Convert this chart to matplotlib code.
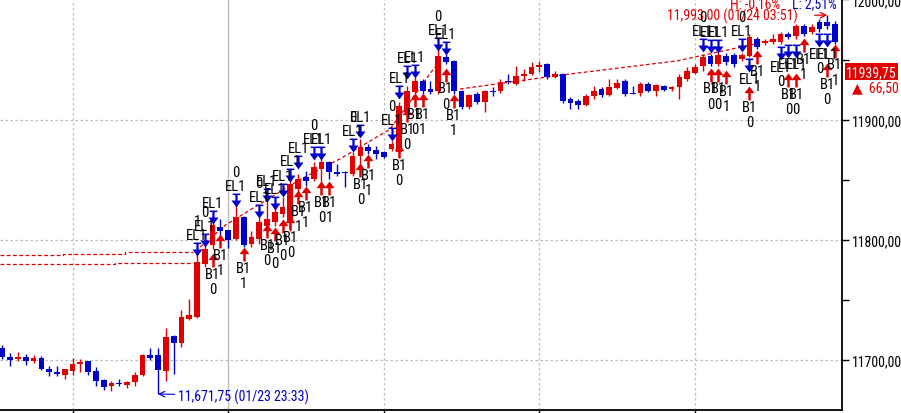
import matplotlib

matplotlib.use('Agg')
import matplotlib.pyplot as plt
from matplotlib.path import Path
from matplotlib.ticker import FixedLocator, FuncFormatter, NullFormatter

RED = '#E10000'
BLUE = '#0000CC'
GRID = '#BDBDBD'

# candles (one per bar, oldest first)
opens = [11710, 11702.5, 11701, 11702.5, 11699, 11701.5, 11692.5, 11690, 11687.5, 11691,
         11696.5, 11699, 11691, 11683.5, 11678.5, 11681, 11679, 11681.5, 11687.5, 11704,
         11704, 11691, 11720, 11714, 11734, 11736, 11780, 11795.5, 11810.5, 11808,
         11800.5, 11819, 11796.5, 11800.5, 11811.5, 11815, 11821.5, 11815, 11842.5, 11852.5,
         11850.5, 11859, 11865, 11856.5, 11856.5, 11855, 11870, 11877.5, 11875, 11873,
         11875.5, 11873, 11906.5, 11923, 11932, 11925.5, 11924, 11952, 11949, 11924,
         11910.5, 11921.5, 11914.5, 11924, 11924, 11932, 11929.5, 11936.5, 11938, 11944,
         11946.5, 11935.5, 11938, 11917, 11915.5, 11912, 11919.5, 11925.5, 11920.5, 11926.5,
         11932, 11922, 11922, 11929.5, 11924, 11928, 11925.5, 11927, 11934, 11939,
         11944.5, 11953, 11946.5, 11953, 11954, 11950.5, 11953, 11967, 11964, 11964.5,
         11964.5, 11971.5, 11969.5, 11978, 11973, 11981.5, 11981.5, 11979.5]
highs = [11712.5, 11706, 11706.5, 11705, 11704, 11703, 11695, 11695, 11692.5, 11701.5,
         11701, 11699.5, 11694, 11684.5, 11682.5, 11684.5, 11682.5, 11690, 11705, 11710,
         11710, 11726.5, 11720.5, 11741.5, 11751, 11790, 11796.5, 11817.5, 11817.5, 11808.5,
         11830, 11819.5, 11807.5, 11825.5, 11834, 11831.5, 11835.5, 11857.5, 11855, 11857.5,
         11865, 11871.5, 11865.5, 11863, 11857, 11873, 11884, 11880, 11878, 11874,
         11882.5, 11914.5, 11928, 11935.5, 11934, 11932, 11959, 11954.5, 11949.5, 11924.5,
         11921.5, 11923, 11924.5, 11927, 11934, 11938, 11944.5, 11942, 11948, 11949,
         11947, 11940.5, 11939, 11919, 11917, 11921.5, 11928, 11927, 11934, 11934,
         11934, 11928, 11931.5, 11931.5, 11929.5, 11929, 11928, 11938, 11944, 11946.5,
         11954.5, 11954.5, 11956.5, 11955.5, 11955.5, 11955.5, 11971.5, 11969, 11967, 11971.5,
         11973, 11973, 11979.5, 11979.5, 11979.5, 11984, 11987, 11982]
lows = [11701, 11695, 11699, 11696, 11697.5, 11692, 11687, 11687, 11684.5, 11687.5,
        11690, 11687.5, 11678.5, 11675, 11674.5, 11678.5, 11677, 11678.5, 11687, 11700,
        11671.75, 11682.5, 11688.5, 11711, 11733.5, 11735, 11777.5, 11792.5, 11798, 11793,
        11800, 11794, 11794, 11796.5, 11810, 11811.5, 11819, 11807.5, 11838, 11845,
        11849, 11845, 11850.5, 11853, 11844, 11853, 11860.5, 11871.5, 11867.5, 11868,
        11874, 11871.5, 11903, 11921.5, 11921.5, 11921.5, 11921.5, 11946.5, 11921.5, 11909,
        11909, 11913, 11906.5, 11919.5, 11922, 11929.5, 11929, 11932, 11937.5, 11939.5,
        11934, 11935, 11914, 11909, 11909, 11911.5, 11917, 11919, 11919.5, 11925.5,
        11919.5, 11921, 11919.5, 11923, 11919.5, 11924, 11924, 11917, 11932, 11938,
        11940.5, 11944.5, 11944.5, 11945.5, 11944, 11949, 11952, 11959, 11962, 11963,
        11963, 11967, 11967, 11969.5, 11971.5, 11973, 11975.5, 11963]
closes = [11702.5, 11700, 11702.5, 11699, 11701.5, 11692.5, 11690, 11688.5, 11692.5, 11696.5,
          11698.5, 11690, 11682.5, 11677.5, 11681, 11680, 11681.5, 11687.5, 11704, 11701.5,
          11691.5, 11719, 11714, 11736, 11737.5, 11781.5, 11792.5, 11812.5, 11807.5, 11800,
          11819, 11795.5, 11802.5, 11815, 11817.5, 11823, 11827.5, 11846.5, 11850.5, 11849,
          11860.5, 11865, 11856.5, 11855, 11855.5, 11870, 11877.5, 11874, 11871.5, 11869,
          11880, 11911.5, 11924, 11932, 11924, 11923, 11953, 11948, 11924, 11910.5,
          11920.5, 11914.5, 11924, 11923, 11931.5, 11931, 11936.5, 11938, 11944, 11945.5,
          11935.5, 11938, 11915.5, 11914, 11912, 11919.5, 11924, 11920.5, 11927, 11930.5,
          11921.5, 11921.5, 11929.5, 11924, 11929, 11924.5, 11927, 11935.5, 11940.5, 11944,
          11952, 11946.5, 11954, 11948, 11946.5, 11954, 11969, 11960.5, 11965.5, 11967,
          11971.5, 11969, 11978, 11971.5, 11977, 11975.5, 11978, 11964.5]

# exit signals (blue, EL1)
el_idx = [25, 26, 27, 30, 33, 34, 35, 36, 37, 38, 40, 41, 45, 46, 50, 51, 52, 53, 56, 57,
          90, 91, 92, 95, 96, 100, 101, 102, 105, 106]
el_price = [11792.5, 11800, 11819, 11833, 11824, 11837.5, 11830.5, 11841.5, 11854, 11865,
            11872.5, 11872.5, 11879, 11890.5, 11888, 11923, 11939.5, 11940.5, 11963, 11959.5,
            11962, 11961.5, 11961.5, 11962, 11945.5, 11955.5, 11957.5, 11957.5, 11966, 11966]
el_num = ['1', '0', '', '0', '0', '', '', '', '', '', '0', '', '0', '', '0', '', '', '', '0', '',
          '0', '', '', '0', '', '0', '', '', '0', '']
el_below = [96, 100, 101, 102, 105, 106]

# entry signals (red, B1)
b_idx = [27, 28, 31, 34, 35, 36, 37, 38, 39, 41, 42, 46, 47, 51, 52, 53, 54, 57, 58,
         91, 92, 93, 96, 97, 101, 102, 103, 106, 107]
b_price = [11783.5, 11799, 11788, 11807.5, 11805, 11811.5, 11814, 11835.5, 11839, 11843,
           11843, 11858, 11865.5, 11874, 11904, 11916.5, 11916.5, 11937.5, 11915.5,
           11937.5, 11937.5, 11935.5, 11922, 11952, 11933, 11933, 11962, 11941.5, 11957.5]
b_num = ['0', '1', '1', '0', '0', '0', '0', '1', '1', '0', '1', '0', '1', '0', '0', '0', '1', '0', '1',
         '0', '0', '1', '0', '1', '0', '0', '1', '0', '1']

# red dashed guide lines
left_upper_x = [-0.3, 7.8, 7.8, 15.8, 15.8, 24.5]
left_upper_y = [11787, 11787, 11788.2, 11788.2, 11790, 11790]
left_lower_x = [-0.3, 14.5, 14.5, 24.5]
left_lower_y = [11780, 11780, 11781, 11781]
trail1_x = [25.4, 28.7, 38.2, 43.4, 49.8, 55.6]
trail1_y = [11794, 11812.5, 11850, 11867.5, 11892, 11944]
trail2_x = [58.8, 71.7, 86.8, 89.6, 98.6]
trail2_y = [11925.5, 11937, 11949, 11953, 11965.5]

grid_prices = [11700, 11800, 11900]
grid_dashed_idx = [9, 49, 69, 89]
grid_solid_idx = [29]

last_price = 11939.75
change_text = '\u25b2  66,50'
high_text = '11,993,00 (01/24 03:51)'
low_text = '11,671,75 (01/23 23:33)'
hl_texts = ['H: -0,16%', 'L: 2,51%']

plt.rcParams['font.family'] = ['Roboto Condensed', 'DejaVu Sans']


def fmt_price(v, _pos=None):
    return f'{v:.2f}'.replace('.', ',')


down_arrow = Path([(-0.55, 1.0), (0.55, 1.0), (0.55, 0.78), (0.16, 0.78), (0.16, 0.0),
                   (0.72, 0.0), (0.0, -1.0), (-0.72, 0.0), (-0.16, 0.0), (-0.16, 0.78),
                   (-0.55, 0.78), (-0.55, 1.0)])
up_arrow = Path([(0.0, 1.0), (0.72, 0.05), (0.18, 0.05), (0.18, -1.0), (-0.18, -1.0),
                 (-0.18, 0.05), (-0.72, 0.05), (0.0, 1.0)])

fig = plt.figure(figsize=(9.01, 4.14), dpi=100)
ax = fig.add_axes([0, 3 / 414, 842 / 901, 411 / 414])
ax.set_xlim(-0.32, 107.9)
ax.set_ylim(11658.4, 12000.4)

for p in grid_prices:
    ax.axhline(p, color=GRID, lw=0.9, ls=(0, (2, 2)), zorder=0)
for i in grid_dashed_idx:
    ax.axvline(i, color=GRID, lw=0.9, ls=(0, (2, 2)), zorder=0)
for i in grid_solid_idx:
    ax.axvline(i, color=GRID, lw=1.0, zorder=0)

dash = (0, (3, 2))
ax.plot(left_upper_x, left_upper_y, color=RED, lw=0.9, ls=dash, zorder=1)
ax.plot(left_lower_x, left_lower_y, color=RED, lw=0.9, ls=dash, zorder=1)
ax.plot(trail1_x, trail1_y, color=RED, lw=0.9, ls=dash, zorder=1)
ax.plot(trail2_x, trail2_y, color=RED, lw=0.9, ls=dash, zorder=1)

xs = list(range(len(opens)))
colors = [RED if c >= o else BLUE for o, c in zip(opens, closes)]
ax.vlines(xs, lows, highs, colors=colors, lw=1.0, zorder=2)
bottoms = [min(o, c) for o, c in zip(opens, closes)]
heights = [max(abs(c - o), 0.9) for o, c in zip(opens, closes)]
ax.bar(xs, heights, bottom=bottoms, width=0.74, color=colors, lw=0, zorder=3)

# signals
ax.plot(el_idx, el_price, ls='none', marker=down_arrow, ms=10, mew=0, color=BLUE, zorder=4)
ax.plot(b_idx, b_price, ls='none', marker=up_arrow, ms=10, mew=0, color=RED, zorder=4)

txt = dict(ha='center', va='center', fontsize=10.5, color='black', zorder=5,
           textcoords='offset points')
for i, p, n in zip(el_idx, el_price, el_num):
    sign = -1 if i in el_below else 1
    ax.annotate('EL1', (i, p), xytext=(0, 10 * sign), **txt)
    if n:
        ax.annotate(n, (i, p), xytext=(0, 20 * sign), **txt)
for i, p, n in zip(b_idx, b_price, b_num):
    ax.annotate('B1', (i, p), xytext=(0, -10), **txt)
    ax.annotate(n, (i, p), xytext=(0, -21), **txt)

# high / low annotations
hi_i = highs.index(max(highs))
ax.annotate(high_text, (hi_i, highs[hi_i]), xytext=(-21, -0.5), textcoords='offset points',
            ha='right', va='center', color=RED, fontsize=10,
            arrowprops=dict(arrowstyle='->', color=RED, lw=0.9, shrinkA=10, shrinkB=0))
lo_i = lows.index(min(lows))
ax.annotate(low_text, (lo_i, lows[lo_i]), xytext=(14, -1.5), textcoords='offset points',
            ha='left', va='center', color=BLUE, fontsize=10,
            arrowprops=dict(arrowstyle='->', color=BLUE, lw=0.8, shrinkA=0, shrinkB=0))

ax.text(780 / 842, 1 - 4 / 411, hl_texts[0], transform=ax.transAxes, ha='right', va='center',
        color=RED, fontsize=10)
ax.text(837 / 842, 1 - 4 / 411, hl_texts[1], transform=ax.transAxes, ha='right', va='center',
        color=BLUE, fontsize=10)

# right axis
ax.yaxis.tick_right()
ax.yaxis.set_major_locator(FixedLocator([11700, 11800, 11900, 12000]))
ax.yaxis.set_minor_locator(FixedLocator([11750, 11850, 11950]))
ax.yaxis.set_major_formatter(FuncFormatter(fmt_price))
ax.yaxis.set_minor_formatter(NullFormatter())
ax.tick_params(axis='y', which='both', direction='out', length=5, width=1, labelsize=10, pad=2)
ax.xaxis.set_major_locator(FixedLocator(grid_dashed_idx + grid_solid_idx))
ax.tick_params(axis='x', direction='out', length=3, width=1, labelbottom=False)
for side in ('top', 'left'):
    ax.spines[side].set_visible(False)
for side in ('right', 'bottom'):
    ax.spines[side].set_linewidth(1.3)

ytr = ax.get_yaxis_transform()
ax.text(1.0 + 4 / 842, last_price, fmt_price(last_price), transform=ytr, ha='left', va='center',
        color='white', fontsize=10, bbox=dict(boxstyle='square,pad=0.1', fc=RED, ec='none'))
ax.annotate(change_text, (1.0, last_price), xycoords=ytr, xytext=(7, -11),
            textcoords='offset points', ha='left', va='center', color=RED, fontsize=10)

fig.savefig('out.png', dpi=100)
plt.close(fig)
